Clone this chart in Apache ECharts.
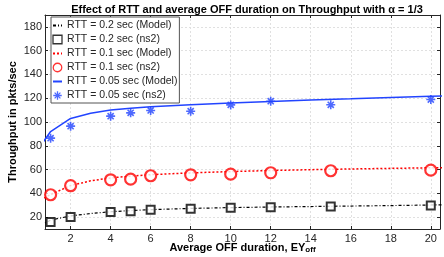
<!DOCTYPE html>
<html><head><meta charset="utf-8">
<script src="https://cdn.jsdelivr.net/npm/echarts@6/dist/echarts.min.js"></script>
<style>html,body{margin:0;padding:0;background:#fff}#c{width:444px;height:257px}</style>
</head><body><div id="c"></div>
<script>
const xTicks = [2,4,6,8,10,12,14,16,18,20];
const yTicks = [20,40,60,80,100,120,140,160,180];
const xNs2 = [1,2,4,5,6,8,10,12,15,20];
const ns2_02 = [15.8,20,24.2,25,26.2,27,27.9,28.2,29,29.8];
const ns2_01 = [38.8,46.4,51.4,51.9,54.8,55.6,56.1,57.3,59,59.5];
const ns2_005 = [86.4,96.5,104.9,107.7,109.7,109.1,114.4,117.5,114.5,118.9];
const xModel = [0.5,1,2,3,4,5,6,8,10,12,14,16,18,20,21];
const model_02 = [13,17.5,21,23,24.5,25.5,26.3,27.3,28,28.5,28.9,29.3,29.7,30.2,30.4];
const model_01 = [34.5,39,46.5,50.5,53,54.5,55.7,57.2,58.3,59.2,59.9,60.5,61,61.5,61.7];
const model_005 = [80,92,103,107.3,110,111.6,112.8,114.6,116,117.3,118.5,119.5,120.6,121.6,122];
const names = ['RTT = 0.2 sec (Model)','RTT = 0.2 sec (ns2)','RTT = 0.1 sec (Model)','RTT = 0.1 sec (ns2)','RTT = 0.05 sec (Model)','RTT = 0.05 sec (ns2)'];

const pair = (xs, ys) => xs.map((x, i) => [x, ys[i]]);
const FONT = 'Liberation Sans, Arial, sans-serif';
const AX = '#262626';
const XMIN = 0.72, XMAX = 20.46, YMIN = 10, YMAX = 190;
const star = 'path://M5 0L5 10M0 5L10 5M1.6 1.6L8.4 8.4M1.6 8.4L8.4 1.6';

const legendData = names.map((n, i) => i % 2 === 0
  ? {name: n, itemStyle: {opacity: 0}}
  : {name: n, itemStyle: {borderWidth: 1.3}});

const chart = echarts.init(document.getElementById('c'));
chart.setOption({
  animation: false,
  backgroundColor: '#fff',
  textStyle: {fontFamily: FONT},
  title: {
    text: 'Effect of RTT and average OFF duration on Throughput with α = 1/3',
    left: 242, textAlign: 'center', top: -1,
    textStyle: {fontSize: 11, fontWeight: 'bold', color: '#000', fontFamily: FONT}
  },
  grid: {left: 45, right: 4, top: 15, bottom: 28, containLabel: false, outerBoundsMode: 'none'},
  legend: {
    orient: 'vertical', left: 51, top: 17,
    data: legendData,
    backgroundColor: '#fff', borderColor: '#555', borderWidth: 1,
    padding: [2, 2, 1, 1], itemGap: 1, itemWidth: 9, itemHeight: 8.5,
    textStyle: {fontSize: 10.5, color: '#262626', fontFamily: FONT, lineHeight: 13}
  },
  xAxis: [{
    type: 'value', min: XMIN, max: XMAX, position: 'bottom',
    name: '{b|Average OFF duration, EY}{s|off}', nameLocation: 'middle', nameGap: 12,
    nameMoveOverlap: false,
    nameTextStyle: {verticalAlign: 'top', rich: {
      b: {fontSize: 11, fontWeight: 'bold', color: '#000', fontFamily: FONT, lineHeight: 13},
      s: {fontSize: 8, fontWeight: 'bold', color: '#000', fontFamily: FONT, verticalAlign: 'bottom', lineHeight: 13, padding: [5,0,0,0]}
    }},
    axisLine: {show: true, onZero: false, lineStyle: {color: AX, width: 1}},
    axisTick: {show: true, inside: true, length: 3, customValues: xTicks, lineStyle: {color: AX}},
    axisLabel: {customValues: xTicks, fontSize: 11, color: AX, margin: 4, fontFamily: FONT},
    splitLine: {show: true, lineStyle: {color: '#e0e0e0', type: [2,2], width: 1}}
  }, {
    type: 'value', min: XMIN, max: XMAX, position: 'top',
    axisLine: {show: true, onZero: false, lineStyle: {color: AX, width: 1}},
    axisTick: {show: true, inside: true, length: 3, customValues: xTicks, lineStyle: {color: AX}},
    axisLabel: {show: false}, splitLine: {show: false}
  }],
  yAxis: [{
    type: 'value', min: YMIN, max: YMAX, position: 'left',
    name: 'Throughput in pkts/sec', nameLocation: 'middle', nameGap: 27,
    nameMoveOverlap: false,
    nameTextStyle: {fontSize: 11, fontWeight: 'bold', color: '#000', fontFamily: FONT},
    axisLine: {show: true, onZero: false, lineStyle: {color: AX, width: 1}},
    axisTick: {show: true, inside: true, length: 3, customValues: yTicks, lineStyle: {color: AX}},
    axisLabel: {customValues: yTicks, fontSize: 11, color: AX, margin: 3, fontFamily: FONT},
    splitLine: {show: true, lineStyle: {color: '#e0e0e0', type: [2,2], width: 1}}
  }, {
    type: 'value', min: YMIN, max: YMAX, position: 'right',
    axisLine: {show: true, onZero: false, lineStyle: {color: AX, width: 1}},
    axisTick: {show: true, inside: true, length: 3, customValues: yTicks, lineStyle: {color: AX}},
    axisLabel: {show: false}, splitLine: {show: false}
  }],
  series: [
    {name: names[0], type: 'line', data: pair(xModel, model_02), symbol: 'none',
     lineStyle: {color: '#000', width: 1.2, type: [3,2,1,2]}, itemStyle: {color: '#000'}, z: 2},
    {name: names[1], type: 'scatter', data: pair(xNs2, ns2_02), symbol: 'rect', symbolSize: 8,
     itemStyle: {color: '#fff', borderColor: '#000', borderWidth: 2}, z: 3},
    {name: names[2], type: 'line', data: pair(xModel, model_01), symbol: 'none',
     lineStyle: {color: '#ff0000', width: 1.5, type: [2,2]}, itemStyle: {color: '#ff0000'}, z: 2},
    {name: names[3], type: 'scatter', data: pair(xNs2, ns2_01), symbol: 'circle', symbolSize: 11,
     itemStyle: {color: '#fff', borderColor: '#ff0000', borderWidth: 2.2}, z: 3},
    {name: names[4], type: 'line', data: pair(xModel, model_005), symbol: 'none',
     lineStyle: {color: '#2244ff', width: 1.5}, itemStyle: {color: '#2244ff'}, z: 2},
    {name: names[5], type: 'scatter', data: pair(xNs2, ns2_005), symbol: star, symbolSize: 9,
     itemStyle: {color: 'rgba(0,0,0,0)', borderColor: '#2244ff', borderWidth: 1.6}, z: 3}
  ]
});
</script></body></html>
